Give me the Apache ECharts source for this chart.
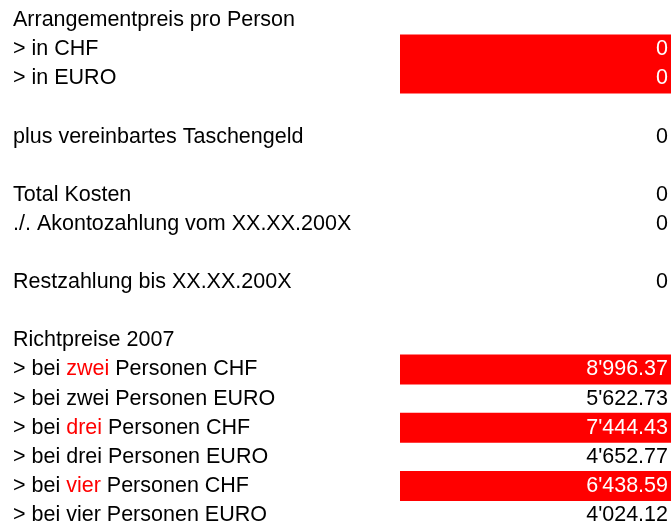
<!DOCTYPE html>
<html><head><meta charset="utf-8">
<script src="https://cdn.jsdelivr.net/npm/echarts@6/dist/echarts.min.js"></script>
<style>html,body{margin:0;padding:0;background:#fff}#c{width:671px;height:524px}</style>
</head><body><div id="c"></div>
<script>
const rowLabels = [
  'Arrangementpreis pro Person', '> in CHF', '> in EURO', '',
  'plus vereinbartes Taschengeld', '',
  'Total Kosten', './. Akontozahlung vom XX.XX.200X', '',
  'Restzahlung bis XX.XX.200X', '',
  'Richtpreise 2007',
  '> bei zwei Personen CHF', '> bei zwei Personen EURO',
  '> bei drei Personen CHF', '> bei drei Personen EURO',
  '> bei vier Personen CHF', '> bei vier Personen EURO'
];
const rowValues = [null, 0, 0, null, 0, null, 0, 0, null, 0, null, null,
  8996.37, 5622.73, 7444.43, 4652.77, 6438.59, 4024.12];
const highlightRows = [1, 2, 12, 14, 16];
const redWords = {12: 'zwei', 14: 'drei', 16: 'vier'};

const FONT = '"Liberation Sans", Arial, sans-serif';
const FS = 21.5;
const cats = rowLabels.map((_, i) => 'r' + i);

function fmt(v) {
  if (v === 0) return '0';
  const parts = v.toFixed(2).split('.');
  return parts[0].replace(/\B(?=(\d{3})+(?!\d))/g, "'") + '.' + parts[1];
}

const barData = rowValues.map((v, i) => {
  if (v === null) return null;
  const hi = highlightRows.includes(i);
  return {
    value: 1,
    raw: v,
    itemStyle: { color: hi ? '#ff0000' : 'rgba(0,0,0,0)' },
    label: { color: hi ? '#ffffff' : '#000000' }
  };
});

const chart = echarts.init(document.getElementById('c'));
const T = 5.8, H = 18 * 29.1;
chart.setOption({
  animation: false,
  grid: [
    { left: 0, top: T, width: 400, height: H, outerBoundsMode: 'none', containLabel: false },
    { left: 400, top: T, width: 271, height: H, outerBoundsMode: 'none', containLabel: false }
  ],
  xAxis: [
    { gridIndex: 0, type: 'value', min: 0, max: 1, show: false },
    { gridIndex: 1, type: 'value', min: 0, max: 1, show: false }
  ],
  yAxis: [
    {
      gridIndex: 0, type: 'category', inverse: true, data: cats,
      axisLine: { show: false }, axisTick: { show: false }, splitLine: { show: false },
      axisLabel: {
        inside: true, margin: 13, interval: 0,
        fontFamily: FONT, fontSize: FS, color: '#000',
        formatter: function (val, idx) {
          let s = rowLabels[idx] || '';
          const w = redWords[idx];
          if (w) s = s.replace(' ' + w + ' ', ' {r|' + w + '} ');
          return s;
        },
        rich: { r: { color: '#ff0000', fontFamily: FONT, fontSize: FS } }
      }
    },
    {
      gridIndex: 1, type: 'category', inverse: true, data: cats, show: false
    }
  ],
  series: [{
    type: 'bar', xAxisIndex: 1, yAxisIndex: 1,
    barWidth: '103%', barCategoryGap: 0,
    data: barData,
    label: {
      show: true, position: 'insideRight', distance: 3,
      fontFamily: FONT, fontSize: FS,
      formatter: p => fmt(p.data.raw)
    }
  }]
});
</script></body></html>
